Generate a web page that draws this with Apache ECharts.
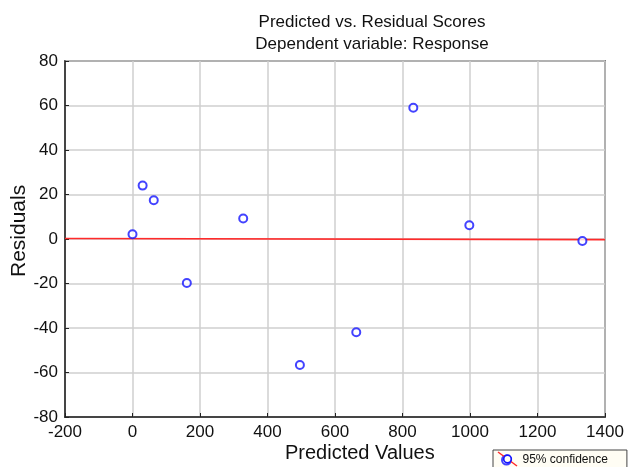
<!DOCTYPE html>
<html>
<head>
<meta charset="utf-8">
<script src="https://cdn.jsdelivr.net/npm/echarts@6/dist/echarts.min.js"></script>
<style>html,body{margin:0;padding:0;background:#fff}#c{width:633px;height:467px}</style>
</head>
<body>
<div id="c"></div>
<script>
var predicted = [0, 30, 63, 161, 328, 496, 663, 832, 998, 1333];
var residuals = [2.1, 24, 17.4, -19.8, 9.2, -56.6, -41.9, 59, 6.2, -0.9];
var fitX = [-200, 1400];
var fitY = [0.2, -0.3];
var xTicks = [-200, 0, 200, 400, 600, 800, 1000, 1200, 1400];
var yTicks = [-80, -60, -40, -20, 0, 20, 40, 60, 80];

var FONT = 'Liberation Sans, Arial, sans-serif';
var chart = echarts.init(document.getElementById('c'), null, {renderer: 'canvas'});
var scatterData = predicted.map(function (x, i) { return [x, residuals[i]]; });
var fitData = fitX.map(function (x, i) { return [x, fitY[i]]; });

chart.setOption({
  animation: false,
  backgroundColor: '#ffffff',
  title: {
    text: 'Predicted vs. Residual Scores\nDependent variable: Response',
    left: 367, top: 6, textAlign: 'center',
    textStyle: {fontFamily: FONT, fontSize: 17, fontWeight: 'normal', color: '#111', lineHeight: 22}
  },
  grid: {left: 65, right: 28, top: 61, bottom: 50, show: true, borderColor: '#222', borderWidth: 1.5, backgroundColor: 'transparent'},
  xAxis: {
    type: 'value', min: xTicks[0], max: xTicks[xTicks.length - 1], interval: 200,
    axisLine: {show: true, onZero: false, lineStyle: {color: '#222', width: 1.5}},
    axisTick: {show: true, inside: true, length: 4, lineStyle: {color: '#222'}},
    axisLabel: {fontFamily: FONT, fontSize: 17, color: '#111', margin: 7, formatter: function (v) { return String(v); }},
    splitLine: {show: true, lineStyle: {color: '#cfcfcf', width: 1.5}}
  },
  yAxis: {
    type: 'value', min: yTicks[0], max: yTicks[yTicks.length - 1], interval: 20,
    axisLine: {show: true, onZero: false, lineStyle: {color: '#222', width: 1.5}},
    axisTick: {show: true, inside: true, length: 4, lineStyle: {color: '#222'}},
    axisLabel: {fontFamily: FONT, fontSize: 17, color: '#111', margin: 7, formatter: function (v) { return String(v); }},
    splitLine: {show: true, lineStyle: {color: '#cfcfcf', width: 1.5}}
  },
  legend: {
    data: ['95% confidence'],
    left: 493, top: 450,
    orient: 'horizontal',
    backgroundColor: '#fffdf4', borderColor: '#444', borderWidth: 1,
    padding: [4, 19, 6, 8],
    itemWidth: 22, itemHeight: 9, itemGap: 4,
    textStyle: {fontFamily: FONT, fontSize: 12, color: '#111'}
  },
  series: [
    {
      name: 'fit', type: 'line', data: fitData, symbol: 'none', z: 2,
      lineStyle: {color: '#ff2a2a', width: 1.6}
    },
    {
      name: '95% confidence', type: 'scatter', data: scatterData,
      symbol: 'emptyCircle', symbolSize: 8, z: 3,
      itemStyle: {color: '#1414ff', borderColor: '#1414ff', borderWidth: 1.7}
    }
  ],
  graphic: [
    {type: 'text', left: 285, top: 443, style: {text: 'Predicted Values', fontFamily: FONT, fontSize: 20, fill: '#111'}},
    {type: 'text', rotation: Math.PI / 2, x: 9, y: 277, style: {text: 'Residuals', fontFamily: FONT, fontSize: 21, fill: '#111', textVerticalAlign: 'top'}},
    {type: 'line', z: 200, shape: {x1: 498, y1: 452, x2: 517, y2: 466}, style: {stroke: '#ff2a2a', lineWidth: 1.5}},
    {type: 'circle', z: 201, shape: {cx: 507.5, cy: 459, r: 3.8}, style: {fill: '#fffdf4', stroke: '#1414ff', lineWidth: 1.7}}
  ]
});
</script>
</body>
</html>
